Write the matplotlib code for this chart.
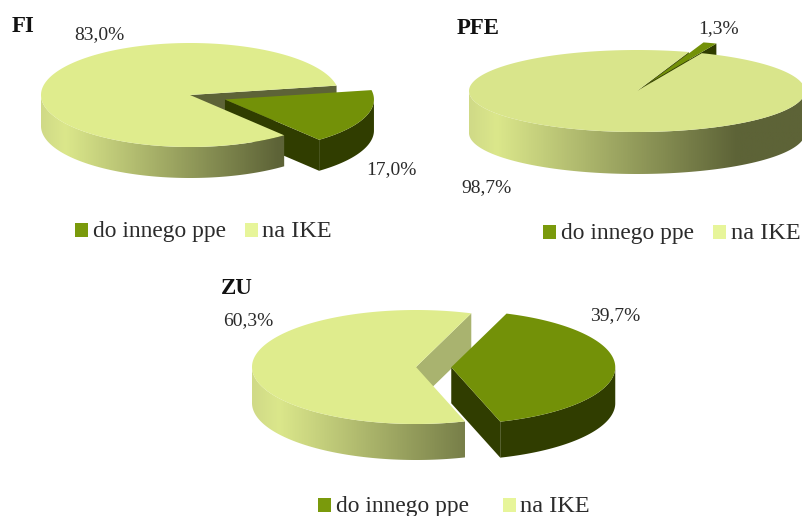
import numpy as np
import matplotlib
matplotlib.use("Agg")
import matplotlib.pyplot as plt
from matplotlib.colors import LinearSegmentedColormap
from matplotlib.patches import Polygon, Rectangle

categories = ["do innego ppe", "na IKE"]
chart_names = ["FI", "PFE", "ZU"]
fi_values = [17.0, 83.0]
pfe_values = [1.3, 98.7]
zu_values = [39.7, 60.3]
value_labels = {"FI": ["17,0%", "83,0%"], "PFE": ["1,3%", "98,7%"], "ZU": ["39,7%", "60,3%"]}

GREEN, GREEN_D, LEGEND_G, LEGEND_L = "#739108", "#303d00", "#7a9a0c", "#e7f59a"
TEXT = "#2b2b2b"
FONT = "Liberation Serif"
shade = LinearSegmentedColormap.from_list(
    "shade", [(0, "#d0da87"), (.08, "#dbe78b"), (.8, "#5d6337"), (1, "#5d6337")])

charts = {
    "FI": dict(values=fi_values, c=(190, 95), r=(149, 52), d=31, start=10.4, exp=.25,
               top="#dfec8d", wall="#5d6337", title=(12, 27),
               lab=[(391, 170), (99, 35)], leg=(75, 231, 93, 245, 262)),
    "PFE": dict(values=pfe_values, c=(637, 91), r=(168, 41), d=42, start=72.0, exp=.25,
                top="#d9e58b", wall="#4d5a10", title=(457, 29),
                lab=[(719, 29), (487, 188)], leg=(543, 233, 561, 713, 731)),
    "ZU": dict(values=zu_values, c=(416, 367), r=(164, 57), d=36, start=70.3, exp=.215,
               top="#dfec8d", wall="#a9b36f", title=(221, 289),
               lab=[(615, 316), (248, 321)], leg=(318, 506, 336, 503, 520)),
}

fig = plt.figure(figsize=(8.02, 5.16), dpi=100)
ax = fig.add_axes([0, 0, 1, 1])
ax.set_xlim(0, 802)
ax.set_ylim(516, 0)
ax.axis("off")


def pt(c, r, deg):
    t = np.radians(deg)
    return np.column_stack([c[0] + r[0] * np.cos(t), c[1] - r[1] * np.sin(t)])


def outer_wall(c, r, d, a, b):
    """Polygons of the front-facing rim between angles a..b."""
    out = []
    for k in (-1, 0, 1):
        lo, hi = max(a, 180 + 360 * k), min(b, 360 + 360 * k)
        if hi > lo:
            arc = pt(c, r, np.linspace(lo, hi, 120))
            out.append(np.vstack([arc, (arc + [0, d])[::-1]]))
    return out


def cut_wall(c, r, d, deg):
    e = pt(c, r, [deg])[0]
    return [c, e, e + [0, d], np.array(c) + [0, d]]


def wedge(c, r, a, b):
    return np.vstack([[c], pt(c, r, np.linspace(a, b, 240))])


for name in chart_names:
    ch = charts[name]
    c, r, d = ch["c"], ch["r"], ch["d"]
    green, light = ch["values"]
    a_top = ch["start"]
    a_low = a_top - green * 3.6
    mid = np.radians((a_top + a_low) / 2)
    gc = (c[0] + ch["exp"] * r[0] * np.cos(mid), c[1] - ch["exp"] * r[1] * np.sin(mid))

    # back: cut face of the light slice
    ax.add_patch(Polygon(cut_wall(c, r, d, a_top), fc=ch["wall"], ec="none", zorder=1))
    # exploded slice
    ax.add_patch(Polygon(cut_wall(gc, r, d, a_low), fc=GREEN_D, ec="none", zorder=2))
    for poly in outer_wall(gc, r, d, a_low, a_top):
        ax.add_patch(Polygon(poly, fc=GREEN_D, ec="none", zorder=2))
    ax.add_patch(Polygon(wedge(gc, r, a_low, a_top), fc=GREEN, ec="none", zorder=3))
    # light slice: rim with horizontal gradient, then top
    grad = np.linspace(0, 1, 400)[None, :]
    for poly in outer_wall(c, r, d, a_top, a_top + light * 3.6):
        clip = Polygon(poly, fc="none", ec="none", transform=ax.transData)
        ax.add_patch(clip)
        im = ax.imshow(grad, cmap=shade, vmin=0, vmax=1, aspect="auto", zorder=4,
                       extent=(c[0] - r[0], c[0] + r[0], c[1] + r[1] + d + 2, c[1] - 2))
        im.set_clip_path(clip)
    ax.add_patch(Polygon(wedge(c, r, a_top, a_top + light * 3.6), fc=ch["top"], ec="none", zorder=5))

    ax.text(*ch["title"], name, family=FONT, fontsize=16.5, fontweight="bold", color="#111111",
            va="center", ha="left", zorder=6)
    for (x, y), s in zip(ch["lab"], value_labels[name]):
        ax.text(x, y, s, family=FONT, fontsize=14, color=TEXT, va="center", ha="center", zorder=6)
    sx1, sy, tx1, sx2, tx2 = ch["leg"]
    for (sx, tx, col, cat, fs) in zip((sx1, sx2), (tx1, tx2), (LEGEND_G, LEGEND_L), categories, (16.8, 17.6)):
        ax.add_patch(Rectangle((sx, sy - 8), 13, 14, fc=col, ec="none", zorder=6))
        ax.text(tx, sy + 6, cat, family=FONT, fontsize=fs, color=TEXT, va="baseline", ha="left", zorder=6)

ax.set_xlim(0, 802)
ax.set_ylim(516, 0)
fig.savefig("out.png", dpi=100)
